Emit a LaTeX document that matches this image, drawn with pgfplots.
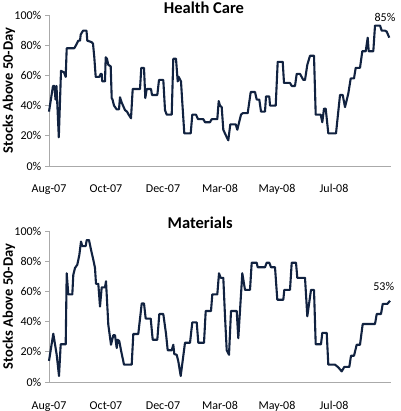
\documentclass[border=0pt]{standalone}
\usepackage{pgfplots}
\pgfplotsset{compat=1.18}
\usepackage{fontspec}
\setmainfont{Carlito}
\definecolor{navy}{RGB}{17,34,64}
\definecolor{axgray}{RGB}{170,170,170}
\pgfplotsset{
  mystyle/.style={
    scale only axis, width=342pt, height=151pt,
    anchor=south west,
    xmin=49, xmax=391, ymin=0, ymax=100,
    axis x line*=bottom, axis y line*=left,
    x axis line style={-, draw=axgray, line width=0.8pt},
    y axis line style={-, draw=axgray, line width=0.8pt},
    xtick={49,106,163,220,277,334},
    xticklabels={Aug-07,Oct-07,Dec-07,Mar-08,May-08,Jul-08},
    ytick={0,20,40,60,80,100},
    yticklabels={0\%,20\%,40\%,60\%,80\%,100\%},
    tick align=outside, major tick length=4pt,
    xtick style={draw=none},
    ytick style={draw=axgray, line width=0.8pt},
    xticklabel style={font=\fontsize{12}{14}\selectfont, anchor=base, yshift=-23pt, inner sep=0pt},
    yticklabel style={font=\fontsize{12}{14}\selectfont, anchor=east, inner sep=0pt, xshift=-3.5pt},
    ylabel={Stocks Above 50-Day},
    ylabel style={font=\fontsize{14.5}{16}\selectfont\bfseries, at={(axis description cs:-0.117,0.5)}, anchor=center},
    clip=false,
  }
}
\begin{document}
\begin{tikzpicture}
\useasboundingbox (0,0) rectangle (400pt,411pt);
\begin{axis}[mystyle, at={(49pt,245pt)}]
\addplot[navy, line width=2.1pt, line join=round] coordinates {
(49,36) (53,53) (54.5,53) (55.5,44) (56.5,53) (58.8,19) (61,63) (64,62) (65.7,59) (66.7,78)
(74.3,78) (76,80) (78.3,83) (80,83) (80.7,87) (83,89.6) (86.5,89.6) (87.3,83) (91.7,82) (93,81)
(94.3,72) (95.7,59) (99.3,59) (100.7,61) (101.7,61) (102.3,56) (105,56) (105.7,72) (107,71) (108.3,67)
(110.7,66) (111.7,45) (112.5,44) (114,40) (116.7,37.5) (119,37.5) (120,45.5) (121.7,42) (125,37) (127,36)
(128.3,34.4) (131,31.6) (132.7,51) (140,51) (141.3,65) (144,65) (145.3,45) (146.7,51) (151,51) (152,47)
(157.3,47) (159,57) (163.3,57) (165,37) (166.7,34) (171.7,34) (173.3,71) (176,71) (177.7,56) (178.7,59)
(181,56) (182.3,42) (184.3,21.6) (190.7,21.6) (192.3,34) (196,34) (198,31) (203.3,31) (205,29) (210,29)
(211.7,31) (217.3,31) (218.7,43) (220,40) (221.7,39) (223.3,24) (225.7,20.5) (228.3,17) (230.3,27.6) (235.7,27.6)
(237.3,24) (241,34) (242.7,35) (247.7,35) (250.7,49) (255,49) (256.7,44) (259.3,44) (261,36) (265,36)
(266,46) (269.3,46) (270,40) (275.7,40) (277.7,69) (282.7,69) (284,55) (290,55) (291.7,53) (295,53)
(296.7,61) (300,61) (303.3,57) (305,57) (307.3,67) (310,73) (314,73) (315.7,34) (320.7,34) (322.3,29)
(324,38) (325.7,38) (328.3,21.6) (336,21.6) (340,47) (342.7,47) (345,39) (348.3,48) (350.7,58) (354,58)
(355.7,65) (360,65) (362.3,76) (365.7,76) (367.7,85) (368.7,76) (373.3,76) (375,93) (380,93) (381.7,89.6)
(385,89.6) (386.7,89) (389.3,85)
};
\node[font=\fontsize{12}{14}\selectfont, anchor=base, inner sep=0pt] at (axis cs:385,95.4) {85\%};
\node[font=\fontsize{16.5}{18}\selectfont\bfseries, anchor=base, inner sep=0pt] at (axis description cs:0.453,1.012) {Health Care};
\end{axis}
\begin{axis}[mystyle, at={(49pt,29pt)}]
\addplot[navy, line width=2.1pt, line join=round] coordinates {
(49,14) (53.3,32) (55,25) (56.7,18) (59,4) (60.7,25) (65.7,25) (66.7,72) (68.3,58) (72.3,58)
(73.3,71) (75,75.5) (77.3,77.7) (79.3,84) (81,93) (82.3,90) (85.7,90) (86.7,94) (89,94) (91,87.6)
(93.3,81) (95,75.5) (96,65) (98.3,65) (100,50) (101.7,62.7) (105,62.7) (106,66.7) (108.3,38) (111,24.7)
(113.3,31) (115,31) (116.7,22.5) (117.7,28) (119.3,27) (121,21) (124,11.5) (131.7,11.5) (133.3,31.8) (138.3,31.8)
(141.7,52) (144,52) (145.7,42) (150.7,42) (152.7,28) (157.3,28) (159.3,45) (163.3,45) (166,32) (167.7,21)
(171.7,21) (173.3,24.7) (174.3,18.5) (176.7,18) (178.3,13.7) (180.7,4) (185,26) (190,26) (192.3,39.5) (196.7,39.5)
(198.3,26) (204,26) (205.7,47) (211,47) (212.3,58) (217.3,58) (219,72) (220.7,69) (223.3,69) (225,43.5)
(226.7,21) (229,18) (231,47) (236.7,47) (238.3,29) (242.3,72) (245,61) (250,61) (251.7,79) (256.7,79)
(257.7,76) (265,76) (266.7,79) (269.3,79) (271,76) (275,76) (277.3,54.5) (283.3,54.5) (284.3,61) (290,61)
(291.7,79) (296,79) (297.3,69) (305,69) (307.3,43.5) (311,61) (314,61) (315.7,25) (321,25) (322.3,32.5)
(326.7,32.5) (328.3,11.5) (335,11.5) (338.3,9.7) (341.7,7) (344.3,10) (349.3,10) (351,17.4) (354,17.4) (356.7,24.7)
(360,24.7) (362.7,38.4) (375,38.4) (376.7,45) (381,45) (382.7,51.7) (387.3,51.7) (390,53.8)
};
\node[font=\fontsize{12}{14}\selectfont, anchor=base, inner sep=0pt] at (axis cs:383.7,60.3) {53\%};
\node[font=\fontsize{16.5}{18}\selectfont\bfseries, anchor=base, inner sep=0pt] at (axis description cs:0.442,1.018) {Materials};
\end{axis}
\end{tikzpicture}
\end{document}
